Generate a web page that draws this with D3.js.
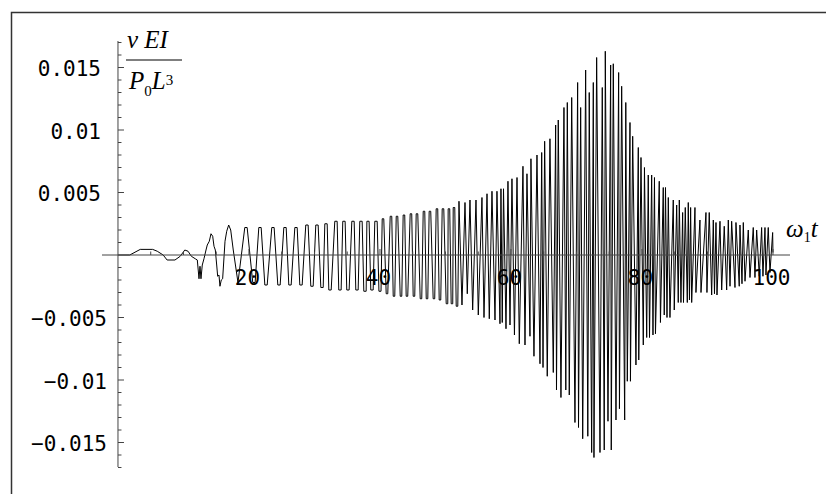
<!DOCTYPE html>
<html><head><meta charset="utf-8">
<script src="https://cdn.jsdelivr.net/npm/d3@7"></script>
<style>body{margin:0;background:#fff} svg{display:block}</style>
</head><body><svg id="c" width="826" height="494"></svg>
<script>
// ---- data ----
const timeValues = [
0, 1.8, 3.4, 5.3, 6.0, 6.9, 7.5, 8.7, 9.5, 10.2,
10.7, 11.2, 11.8, 12.11, 12.37, 12.52, 12.67, 12.87, 13.13, 13.44,
13.63, 13.94, 14.2, 14.46, 14.66, 14.86, 15.07, 15.22, 15.42, 15.57,
15.77, 15.98, 16.34, 16.6, 16.9, 17.21, 17.6, 18.32,
19.36, 19.72, 20.58, 20.94, 21.5, 21.86, 22.42, 22.78, 23.48, 23.84,
24.4, 24.76, 25.32, 25.68, 26.08, 26.44, 27.0, 27.36, 27.76, 28.12,
28.67, 29.03, 29.44, 29.8, 30.2, 30.56, 30.97, 31.33, 31.58, 31.94,
32.19, 32.55, 33.1, 33.46, 33.71, 34.07, 34.32, 34.68, 34.93, 35.29,
35.7, 36.06, 36.31, 36.67, 36.92, 37.28, 37.53, 37.89, 38.0, 38.34,
38.6, 38.96, 39.21, 39.57, 39.84, 40.16, 40.34, 40.58, 40.95, 41.19,
41.56, 41.8, 42.02, 42.26, 42.48, 42.72, 43.09, 43.33, 43.54, 43.78,
44.0, 44.24, 44.61, 44.85, 45.07, 45.31, 45.53, 45.77, 46.14, 46.38,
46.6, 46.84, 47.06, 47.3, 47.51, 47.75, 48.12, 48.36, 48.58, 48.82,
49.04, 49.28, 49.5, 49.74, 50.11, 50.35, 50.41, 50.65, 50.87, 51.11,
51.18, 51.42, 51.64, 51.88,
52.06, 52.52, 52.98, 53.33, 53.74, 54.15, 54.66, 55.01, 55.57, 55.88,
56.34, 56.69, 57.1, 57.56, 57.86, 58.32, 58.47, 58.67, 58.86, 59.24,
59.54, 59.85, 60.15, 60.53, 60.92, 61.27, 61.83, 62.14, 62.44, 62.9,
63.05, 63.51, 63.97, 64.43, 64.69, 64.89, 65.14, 65.54, 65.95, 66.46,
66.82, 66.95, 67.22, 67.63, 68.09, 68.37, 68.6, 68.9, 69.27, 69.77,
70.18, 70.31, 70.64, 70.95, 71.4, 71.73, 71.95, 72.32, 72.57, 72.67,
73.08, 73.59, 73.94, 74.24, 74.4, 74.81, 75.22, 75.31, 75.62, 76.03,
76.44, 76.56, 76.9, 77.36, 77.53, 77.76, 78.17, 78.24, 78.58, 79.08,
79.44, 79.51, 79.85, 80.2, 80.38, 80.72, 80.96, 81.15, 81.48, 81.68,
81.91, 82.06, 82.64, 82.82, 83.25, 83.4, 83.59, 83.82, 84.02, 84.27,
84.78, 84.93, 85.3, 85.54, 85.7, 85.95, 86.21, 86.34, 86.61, 86.92,
87.07, 87.25, 87.43, 87.59, 88.09, 88.24, 88.85, 89.01, 89.77, 89.92,
90.27, 90.64, 90.89, 91.07, 91.3, 91.45, 91.91, 92.17, 92.56, 92.93,
93.18, 93.44, 93.69, 94.2, 94.35, 94.85, 94.96, 95.27, 95.47, 95.73,
96.23, 96.49, 96.99, 97.25, 97.51, 97.91, 98.27, 98.47, 98.78, 98.93,
99.28, 99.54, 99.95, 100
];
const deflectionValues = [
0, 0, 0.00045, 0.00045, 0.0003, 0, -0.0004, -0.0004, -0.0001, 0.0004,
0.0003, -0.0001, -0.0003, -0.0004, -0.0019, -0.0009, -0.0019, -0.0008, -0.0003, 0.0004,
0.0008, 0.0011, 0.0017, 0.0015, 0.0007, 0.0004, -0.0008, -0.0017, -0.0016, -0.0025,
-0.002, -0.0019, 0.0011, 0.0019, 0.0024, 0.002, 0.0004, -0.0022,
0.0022, 0.0022, -0.0022, -0.0022, 0.0022, 0.0022, -0.0024, -0.0024, 0.0022, 0.0022,
-0.0024, -0.0024, 0.0022, 0.0022, -0.0024, -0.0024, 0.0022, 0.0022, -0.0024, -0.0024,
0.0024, 0.0024, -0.0025, -0.0025, 0.0024, 0.0024, -0.0026, -0.0026, 0.0025, 0.0025,
-0.0028, -0.0028, 0.0027, 0.0027, -0.0028, -0.0028, 0.0027, 0.0027, -0.0028, -0.0028,
0.0027, 0.0027, -0.0028, -0.0028, 0.0027, 0.0027, -0.0029, -0.0029, 0.0027, 0.0027,
-0.0028, -0.0028, 0.0027, 0.0027, -0.0029, -0.0029, 0.0029, 0.0029, -0.0031, -0.0031,
0.0031, 0.0031, -0.0033, -0.0033, 0.0031, 0.0031, -0.0033, -0.0033, 0.0032, 0.0032,
-0.0033, -0.0033, 0.0033, 0.0033, -0.0033, -0.0033, 0.0033, 0.0033, -0.0035, -0.0035,
0.0035, 0.0035, -0.0035, -0.0035, 0.0035, 0.0035, -0.0035, -0.0035, 0.0037, 0.0037,
-0.0036, -0.0036, 0.0037, 0.0037, -0.0039, -0.0039, 0.0037, 0.0037, -0.0039, -0.0039,
0.0038, 0.0038, -0.0041, -0.0041,
0.0043, -0.004, 0.0042, -0.0031, 0.0044, -0.0044, 0.0044, -0.0048, 0.0046, -0.005,
0.0049, -0.0051, 0.0051, -0.0052, 0.0051, -0.0055, 0.0053, -0.0054, 0.0053, -0.0059,
0.0059, -0.0056, 0.0061, -0.0064, 0.0062, -0.0071, 0.0071, -0.0072, 0.0065, -0.0065,
0.0077, -0.0081, 0.008, -0.0087, 0.0082, -0.009, 0.0091, -0.0097, 0.0093, -0.0094,
0.0104, -0.0108, 0.0108, -0.0114, 0.0118, -0.0108, 0.0122, -0.0112, 0.0126, -0.0134,
0.0138, -0.0138, 0.0118, -0.0147, 0.0148, -0.0145, 0.013, -0.0158, 0.0138, -0.0162,
0.0158, -0.0158, 0.0134, -0.0156, 0.0163, -0.0133, 0.0152, -0.0156, 0.0153, -0.0132,
0.0146, -0.0123, 0.0135, -0.0132, 0.0122, -0.0101, 0.0106, -0.0101, 0.0095, -0.0088,
0.0086, -0.0084, 0.0078, -0.0072, 0.007, -0.0066, 0.0064, -0.0066, 0.0064, -0.0064,
0.0062, -0.0063, 0.0059, -0.0054, 0.0054, -0.0048, 0.0054, -0.005, 0.0046, -0.005,
0.0044, -0.0044, 0.004, -0.0038, 0.0044, -0.0038, 0.0034, -0.0038, 0.0038, -0.0038,
0.0042, -0.0036, 0.0038, -0.0038, 0.0038, -0.003, 0.0028, -0.003, 0.0034, -0.003,
0.0034, -0.0032, 0.0028, -0.0031, 0.0026, -0.0032, 0.0027, -0.0028, 0.0023, -0.0028,
0.0028, -0.0025, 0.0027, -0.0026, 0.0026, -0.0025, 0.0024, -0.0023, 0.0026, -0.0021,
0.002, -0.0018, 0.0022, -0.0018, 0.002, -0.0017, 0.0022, -0.0017, 0.0022, -0.0016,
0.0022, -0.0014, 0.0018, 0.0002
];
const xMajorTicks = [20, 40, 60, 80, 100];
const xTickLabels = ["20", "40", "60", "80", "100"];
const xMinorTicks = [5, 10, 15, 25, 30, 35, 45, 50, 55, 65, 70, 75, 85, 90, 95];
const yMajorTicks = [-0.015, -0.01, -0.005, 0.005, 0.01, 0.015];
const yTickLabels = ["\u22120.015", "\u22120.01", "\u22120.005", "0.005", "0.01", "0.015"];
const yMinorTicks = [-0.017,-0.016,-0.014,-0.013,-0.012,-0.011,-0.009,-0.008,-0.007,-0.006,-0.004,-0.003,-0.002,-0.001,
                     0.001,0.002,0.003,0.004,0.006,0.007,0.008,0.009,0.011,0.012,0.013,0.014,0.016,0.017];

// ---- drawing ----
const svg = d3.select("#c");
const x = d3.scaleLinear().domain([-2.44, 102.6]).range([102, 790]);
const y = d3.scaleLinear().domain([-0.01696, 0.01712]).range([467, 41]);

// frame
svg.append("rect").attr("x", 11.5).attr("y", 12.5).attr("width", 830).attr("height", 500)
  .attr("fill", "none").attr("stroke", "#333").attr("stroke-width", 1.5);

const n = Math.min(timeValues.length, deflectionValues.length);
const data = timeValues.slice(0, n).map((t, i) => ({t, v: deflectionValues[i]}));

// signal
svg.append("path").datum(data)
  .attr("d", d3.line().x(d => x(d.t)).y(d => y(d.v)))
  .attr("fill", "none").attr("stroke", "#000").attr("stroke-width", 1).attr("stroke-linejoin", "miter");

const axisColor = "#444";
const mono = "DejaVu Sans Mono, Liberation Mono, monospace";
// x axis
const gx = svg.append("g").attr("transform", `translate(0,${y(0)})`);
gx.append("line").attr("x1", x.range()[0]).attr("x2", x.range()[1]).attr("stroke", axisColor);
gx.selectAll(".xm").data(xMajorTicks).join("line")
  .attr("x1", d => x(d)).attr("x2", d => x(d)).attr("y1", 0).attr("y2", -6).attr("stroke", axisColor);
gx.selectAll(".xn").data(xMinorTicks).join("line")
  .attr("x1", d => x(d)).attr("x2", d => x(d)).attr("y1", 0).attr("y2", -3.5).attr("stroke", axisColor);
gx.selectAll("text").data(xMajorTicks).join("text")
  .attr("x", d => x(d) - 1.5).attr("y", 30).attr("text-anchor", "middle")
  .attr("font-family", mono).attr("font-size", 21).attr("fill", "#000")
  .text((d, i) => xTickLabels[i]);

// y axis
const gy = svg.append("g").attr("transform", `translate(${x(0)},0)`);
gy.append("line").attr("y1", y.range()[0]).attr("y2", y.range()[1]).attr("stroke", axisColor);
gy.selectAll(".ym").data(yMajorTicks).join("line")
  .attr("y1", d => y(d)).attr("y2", d => y(d)).attr("x1", 0).attr("x2", 6).attr("stroke", axisColor);
gy.selectAll(".yn").data(yMinorTicks).join("line")
  .attr("y1", d => y(d)).attr("y2", d => y(d)).attr("x1", 0).attr("x2", 3.5).attr("stroke", axisColor);
gy.selectAll("text").data(yMajorTicks).join("text")
  .attr("x", d => d < 0 ? -11 : -17).attr("y", d => y(d) + 8.5).attr("text-anchor", "end")
  .attr("font-family", mono).attr("font-size", 21).attr("fill", "#000")
  .text((d, i) => yTickLabels[i]);

// y axis label (fraction)
const serif = "Liberation Serif, Times New Roman, serif";
const lab = svg.append("g").attr("font-family", serif).attr("font-style", "italic").attr("fill", "#000");
lab.append("text").attr("x", 127).attr("y", 48).attr("font-size", 25).text("v EI");
svg.append("line").attr("x1", 126).attr("x2", 182).attr("y1", 60).attr("y2", 60).attr("stroke", "#000").attr("stroke-width", 1.2);
const den = lab.append("text").attr("x", 129).attr("y", 89).attr("font-size", 25);
den.append("tspan").text("P");
den.append("tspan").attr("font-size", 15).attr("font-style", "normal").attr("dy", 7).text("0");
den.append("tspan").attr("dy", -7).text("L");
den.append("tspan").attr("font-size", 15).attr("font-style", "normal").attr("dy", -4).text("3");

// x axis label
const xl = lab.append("text").attr("x", 786).attr("y", 237).attr("font-size", 25);
xl.append("tspan").text("\u03c9");
xl.append("tspan").attr("font-size", 14).attr("font-style", "normal").attr("dy", 5).text("1");
xl.append("tspan").attr("dy", -5).text("t");
</script></body></html>
